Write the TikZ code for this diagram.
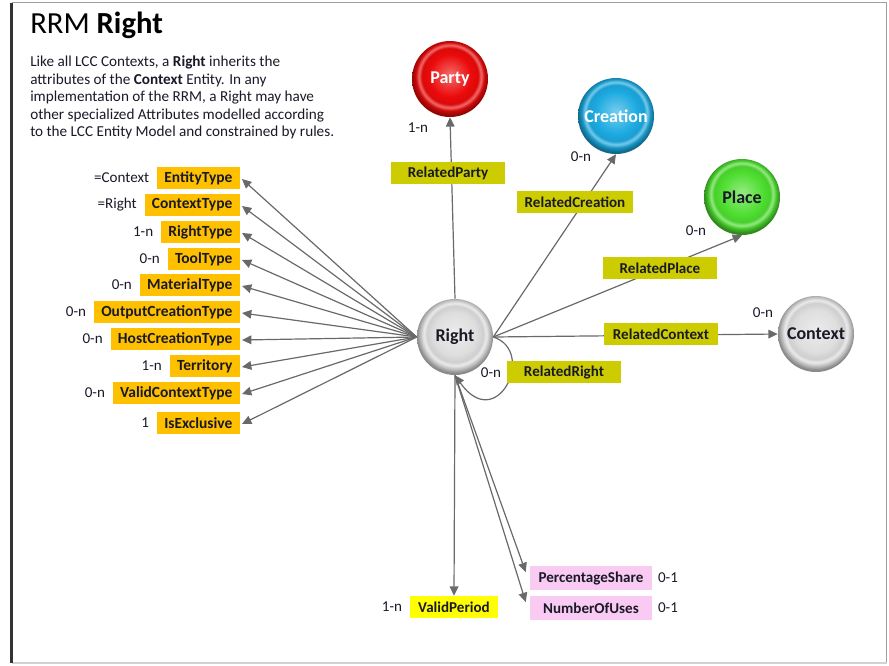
\documentclass[tikz,border=0pt]{standalone}
\usepackage{fontspec}
\setmainfont{Carlito}
\usetikzlibrary{arrows.meta,calc,positioning}

\definecolor{inkdark}{RGB}{25,25,40}
\definecolor{wire}{RGB}{105,105,105}
\definecolor{attrfill}{RGB}{255,192,0}
\definecolor{relfill}{RGB}{204,204,0}
\definecolor{pinkfill}{RGB}{249,202,242}
\definecolor{periodfill}{RGB}{255,255,0}
\definecolor{partyred}{RGB}{235,10,10}
\definecolor{creationblue}{RGB}{28,170,225}
\definecolor{placegreen}{RGB}{78,222,48}
\definecolor{orbgray}{RGB}{222,222,222}

% bevelled sphere: bright face, light inner rim, darker outer edge
% (a shaded path spans the central 50bp of the shading, so the rim sits at 25bp)
\newcommand\declareorb[2]{%
  \pgfdeclareradialshading{orb#1}{\pgfpoint{0bp}{3bp}}{%
    color(0bp)=(#2!60!white); color(14bp)=(#2); color(18.5bp)=(#2!93!black);
    color(20.5bp)=(#2!60!white); color(22.5bp)=(#2!88!black);
    color(24.5bp)=(#2!68!black); color(25bp)=(#2!62!black); color(50bp)=(#2!62!black)}}
\declareorb{red}{partyred}
\declareorb{blue}{creationblue}
\declareorb{green}{placegreen}
\declareorb{gray}{orbgray}

\begin{document}
\begin{tikzpicture}[x=0.75pt,y=-0.75pt,
  every node/.style={text=inkdark},
  wirearrow/.style={draw=wire, line width=0.9pt, -{Triangle[length=7pt,width=6.5pt]}},
  orb/.style={circle, minimum size=57pt, inner sep=0pt,
    font=\bfseries\fontsize{13.5}{15}\selectfont,
    path picture={\shade[shading=orb#1] (path picture bounding box.south west)
      rectangle (path picture bounding box.north east);}},
  attrbox/.style={fill=attrfill, font=\bfseries\fontsize{11.6}{13}\selectfont,
    minimum height=16.5pt, inner xsep=5.5pt, inner ysep=0pt, anchor=east},
  relbox/.style={fill=relfill, font=\bfseries\fontsize{11.3}{13}\selectfont,
    minimum height=16.5pt, minimum width=85.5pt, inner xsep=6pt, inner ysep=0pt},
  pinkbox/.style={fill=pinkfill, font=\bfseries\fontsize{11.3}{13}\selectfont,
    minimum height=17.5pt, minimum width=91.5pt, inner ysep=0pt},
  periodbox/.style={fill=periodfill, font=\bfseries\fontsize{11.3}{13}\selectfont,
    minimum height=16.5pt, minimum width=66.5pt, inner ysep=0pt},
  mult/.style={font=\fontsize{11.3}{13}\selectfont, inner sep=0pt},
]
\useasboundingbox (0,0) rectangle (889,665);

% page frame
\draw[gray!75, line width=0.8pt] (11.5,2.5) -- (886.5,2.5) -- (886.5,663);
\draw[gray!35, line width=0.8pt] (11.5,663) -- (886.5,663);
\draw[gray!40!black, line width=1.6pt] (11.5,2.5) -- (11.5,663);

% heading and description
\node[anchor=base west, inner sep=0pt, font=\fontsize{23}{26}\selectfont, text=black]
  (title) at (30,33) {RRM \textbf{Right}};
\node[anchor=north west, inner sep=0pt, align=left, font=\fontsize{11.4}{13.1}\selectfont]
  (blurb) at (30,56) {Like all LCC Contexts, a \textbf{Right} inherits the\\
  attributes of the \textbf{Context} Entity. In any\\
  implementation of the RRM, a Right may have\\
  other specialized Attributes modelled according\\
  to the LCC Entity Model and constrained by rules.};

% entities
\node[orb=gray]  (R)   at (455,337) {Right};
\node[orb=red, text=white]   (Pty) at (450,79)  {Party};
\node[orb=blue, text=white]  (Cre) at (616,116) {Creation};
\node[orb=green] (Plc) at (742,197) {Place};
\node[orb=gray]  (Ctx) at (816,334) {Context};

% relations to other entities
\draw[wirearrow] (R.north) -- (Pty.south);
\draw[wirearrow] (R.east) -- (Cre.south);
\draw[wirearrow] (R.east) -- (Plc.south);
\draw[wirearrow] (R.east) -- (Ctx.west);
\draw[wirearrow] (R.east) .. controls ($(R.east)+(44,14)$) and ($(R.south)+(42,60)$) .. (R.south);

\node[relbox] (rParty)   at (448,173) {RelatedParty};
\node[relbox] (rCreation) at (575,202) {RelatedCreation};
\node[relbox] (rPlace)   at (660,268) {RelatedPlace};
\node[relbox] (rContext) at (661,334) {RelatedContext};
\node[relbox] (rRight)   at (564,372) {RelatedRight};

\node[mult] (mParty)    at (418,128) {1-n};
\node[mult] (mCreation) at (581,157) {0-n};
\node[mult] (mPlace)    at (696,231) {0-n};
\node[mult] (mContext)  at (763,313) {0-n};
\node[mult] (mRight)    at (491,373) {0-n};

% attributes
\foreach \nm/\lbl/\mlt/\yy in {
    aEnt/EntityType/=Context/178,
    aCtx/ContextType/=Right/205,
    aRgt/RightType/1-n/232,
    aTool/ToolType/0-n/259,
    aMat/MaterialType/0-n/285,
    aOut/OutputCreationType/0-n/312,
    aHost/HostCreationType/0-n/339,
    aTer/Territory/1-n/366,
    aVal/ValidContextType/0-n/393,
    aExc/IsExclusive/1/423} {
  \node[attrbox] (\nm) at (240,\yy) {\lbl};
  \node[mult, left=5.5pt of \nm] (\nm-m) {\mlt};
  \draw[wirearrow] (R.west) -- ($(\nm.east)+(2,1)$);
}

% period and usage attributes
\node[periodbox] (vPeriod) at (454,607) {ValidPeriod};
\node[pinkbox] (pShare) at (591,578) {PercentageShare};
\node[pinkbox] (pUses)  at (591,608) {NumberOfUses};
\node[mult] (mPeriod) at (392,607) {1-n};
\node[mult] (mShare)  at (668,578) {0-1};
\node[mult] (mUses)   at (668,608) {0-1};

\draw[wirearrow] (R.south) -- (vPeriod.north);
\draw[wirearrow] (R.south) -- ($(pShare.north west)+(-4,6)$);
\draw[wirearrow] (R.south) -- ($(pUses.north west)+(-4,6)$);
\end{tikzpicture}
\end{document}
